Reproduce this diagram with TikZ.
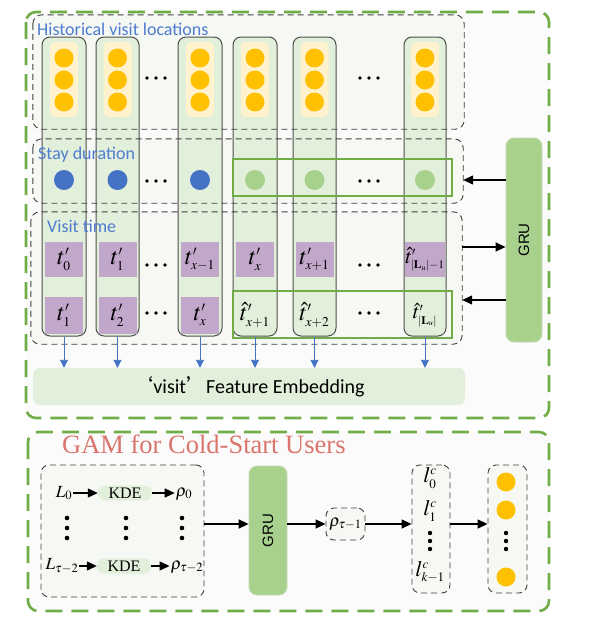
\documentclass[tikz,border=0pt]{standalone}
\usepackage{mathptmx}
\usepackage{fontspec}
\setmainfont{Liberation Serif}
\newfontfamily\calfont{Carlito}
\newfontfamily\arialfont{Liberation Sans}
\newfontfamily\cjkfont{Noto Sans CJK SC}
\usetikzlibrary{arrows.meta,calc}
\DeclareMathSizes{24}{24}{13.5}{10}
\DeclareMathSizes{21}{21}{11.5}{8}
\DeclareMathSizes{22}{22}{13}{10}
\definecolor{ogreen}{HTML}{70AD47}
\definecolor{palebg}{HTML}{F6F8F4}
\definecolor{outerbg}{HTML}{FBFBFB}
\definecolor{colgreen}{HTML}{E2EFDA}
\definecolor{colline}{HTML}{4F4F4F}
\definecolor{dline}{HTML}{404040}
\definecolor{bandy}{HTML}{FFF2CC}
\definecolor{yel}{HTML}{FFC000}
\definecolor{mauve}{HTML}{C1A7C9}
\definecolor{bblue}{HTML}{4472C4}
\definecolor{lblue}{HTML}{4E7CD0}
\definecolor{lgreen}{HTML}{A9D18E}
\definecolor{gruline}{HTML}{C2DAB0}
\definecolor{salmon}{HTML}{D9756C}
\begin{document}
\begin{tikzpicture}[x=1pt,y=-1pt,
  outerbox/.style={draw=ogreen,line width=2.6pt,dash pattern=on 17pt off 9pt,rounded corners=10pt,fill=outerbg},
  dfill/.style={fill=palebg,draw=none,rounded corners=9pt,inner sep=0pt},
  dbox/.style={draw=dline,line width=0.9pt,dash pattern=on 6pt off 4pt,rounded corners=9pt},
  dnode/.style={draw=dline,line width=0.9pt,dash pattern=on 6pt off 4pt,rounded corners=8pt,fill=palebg,inner sep=0pt},
  colbox/.style={draw=colline,fill=colgreen,line width=1pt,rounded corners=8pt,minimum width=44pt,minimum height=299pt,inner sep=0pt},
  band/.style={fill=bandy,rounded corners=5pt,minimum width=28pt,minimum height=75pt,inner sep=0pt},
  ydot/.style={circle,fill=yel,minimum size=19pt,inner sep=0pt},
  bdot/.style={circle,fill=bblue,minimum size=20pt,inner sep=0pt},
  gdot/.style={circle,fill=lgreen,minimum size=20pt,inner sep=0pt},
  pbox/.style={fill=mauve,minimum width=38pt,minimum height=35pt,inner sep=0pt,font=\fontsize{24}{25}\selectfont},
  hbox/.style={minimum width=38pt,minimum height=35pt,inner sep=0pt,font=\fontsize{24}{25}\selectfont},
  grect/.style={draw=ogreen,line width=1.3pt},
  lbl/.style={anchor=base west,text=lblue,font=\calfont\fontsize{18}{20}\selectfont,inner sep=0pt},
  grubox/.style={fill=lgreen,draw=gruline,line width=0.8pt,rounded corners=8pt,inner sep=0pt,font=\arialfont\fontsize{15}{16}\selectfont},
  arr/.style={line width=1.4pt,-{Triangle[length=10pt,width=9pt]}},
  barr/.style={draw=bblue,line width=0.9pt,-{Triangle[length=8pt,width=8pt]}},
  mth/.style={inner sep=1pt,font=\fontsize{17}{18}\selectfont},
  kde/.style={fill=colgreen,rounded corners=7pt,minimum width=54pt,minimum height=15pt,inner sep=0pt,font=\fontsize{16}{18}\selectfont},
  lc/.style={inner sep=0pt,font=\fontsize{22}{24}\selectfont},
]
\useasboundingbox (0,0) rectangle (592,621);
% outer boxes
\draw[outerbox] (26,12) rectangle (549,418);
\draw[outerbox] (28,432) rectangle (549,611);
% dashed box fills
\node[dfill,minimum width=431pt,minimum height=114pt] (hist) at (248.5,72) {};
\node[dfill,minimum width=430pt,minimum height=64pt] (stay) at (248,171) {};
\node[dfill,minimum width=431pt,minimum height=132pt] (visit) at (246.5,278) {};
% columns
\node[colbox] (c1) at (64,186.5) {};
\node[colbox,minimum width=43pt] (c2) at (117.5,186.5) {};
\node[colbox] (c3) at (200,186.5) {};
\node[colbox] (c4) at (255,186.5) {};
\node[colbox,minimum width=43pt] (c5) at (314.5,186.5) {};
\node[colbox,minimum width=42pt] (c6) at (425,186.5) {};
% dashed borders on top
\draw[dbox] (hist.north west) rectangle (hist.south east);
\draw[dbox] (stay.north west) rectangle (stay.south east);
\draw[dbox] (visit.north west) rectangle (visit.south east);
% labels
\node[lbl] (lh) at (37,35) {Historical visit locations};
\node[lbl] (ls) at (38,159) {Stay duration};
\node[lbl] (lv) at (47,232) {Visit time};
% location bands & circles
\foreach \n/\x in {1/64,2/117.5,3/200,4/255,5/314.5,6/425}{
  \node[band] (yb\n) at (\x,79.5) {};
  \node[ydot] (ya\n) at (\x,58) {};
  \node[ydot] (yc\n) at (\x,80) {};
  \node[ydot] (yd\n) at (\x,102) {};
}
% stay circles
\node[bdot] (s1) at (64,180) {};
\node[bdot] (s2) at (117.5,180) {};
\node[bdot] (s3) at (200,180) {};
\node[gdot] (s4) at (255,180) {};
\node[gdot] (s5) at (314.5,180) {};
\node[gdot] (s6) at (425,180) {};
% dots
\foreach \y in {78,181,265,313}{
  \foreach \x in {147,156,165}{\fill (\x,\y) circle (1.8);}
  \foreach \x in {360,369,378}{\fill (\x,\y) circle (1.8);}
}
% visit time boxes
\node[pbox] (ta1) at (64,259.5) {$t'_0$};
\node[pbox] (ta2) at (117.5,259.5) {$t'_1$};
\node[pbox] (ta3) at (200,259.5) {$t'_{x-1}$};
\node[pbox] (ta4) at (255,259.5) {$t'_x$};
\node[pbox] (ta5) at (314.5,259.5) {$t'_{x+1}$};
\node[pbox,font=\fontsize{21}{22}\selectfont] (ta6) at (425,259.5) {$\hat{t}'_{|\mathbf{L}_u|-1}$};
\node[pbox,minimum height=37pt] (tb1) at (64,315) {$t'_1$};
\node[pbox,minimum height=37pt] (tb2) at (117.5,315) {$t'_2$};
\node[pbox,minimum height=37pt] (tb3) at (200,315) {$t'_x$};
\node[hbox] (tb4) at (255,315) {$\hat{t}'_{x+1}$};
\node[hbox] (tb5) at (314.5,315) {$\hat{t}'_{x+2}$};
\node[hbox,font=\fontsize{21}{22}\selectfont] (tb6) at (425,315) {$\hat{t}'_{|\mathbf{L}_u|}$};
% green rectangles
\draw[grect] (233,159) rectangle (452,196);
\draw[grect] (233,291) rectangle (452,338);
% GRU top
\node[grubox,minimum width=36pt,minimum height=204pt] (gru1) at (524,240) {\rotatebox{90}{GRU}};
\coordinate (a2) at (0,247);
\coordinate (a3) at (0,300);
\draw[arr] (gru1.west |- s6) -- (stay.east |- s6);
\draw[arr] (visit.east |- a2) -- (gru1.west |- a2);
\draw[arr] (gru1.west |- a3) -- (visit.east |- a3);
% embedding
\node[fill=colgreen,rounded corners=7pt,minimum width=432pt,minimum height=37pt,inner sep=0pt,font=\calfont\fontsize{20}{22}\selectfont] (emb) at (249,386.5) {{\cjkfont ‘}visit{\cjkfont ’}Feature Embedding};
\foreach \c in {c1,c2,c3,c4,c5,c6}{\draw[barr] (\c.south) -- (\c.south |- emb.north);}
% bottom section
\node[anchor=base west,text=salmon,font=\fontsize{26.5}{28}\selectfont,inner sep=0pt] (gam) at (62,453) {GAM for Cold-Start Users};
\node[dnode,minimum width=163pt,minimum height=132pt] (lbox) at (122.5,531) {};
\node[mth] (L0) at (64,493) {$L_0$};
\node[kde] (k0) at (125,493) {KDE};
\node[mth] (r0) at (184,494) {$\rho_0$};
\node[mth] (L1) at (62,566) {$L_{\tau-2}$};
\node[kde] (k1) at (124,566) {KDE};
\node[mth] (r1) at (187,567) {$\rho_{\tau-2}$};
\draw[arr,line width=1.2pt] (L0) -- (k0);
\draw[arr,line width=1.2pt] (k0) -- (r0.west |- k0);
\draw[arr,line width=1.2pt] (L1.east |- k1) -- (k1);
\draw[arr,line width=1.2pt] (k1) -- (r1.west |- k1);
\foreach \x in {67,126,182}{\foreach \y in {518,528,538}{\fill (\x,\y) circle (2.3);}}
\node[grubox,minimum width=38pt,minimum height=129pt] (gru2) at (268,530.5) {\rotatebox{90}{GRU}};
\node[dnode,minimum width=39pt,minimum height=32pt,font=\fontsize{17}{18}\selectfont] (rho) at (345.5,524) {$\rho_{\tau-1}$};
\node[dnode,minimum width=38pt,minimum height=128pt] (lcbox) at (431,529) {};
\node[lc] (l0) at (430,478) {$l_0^c$};
\node[lc] (l1) at (430,511) {$l_1^c$};
\node[lc] (l2) at (430,572) {$l_{k-1}^c$};
\foreach \y in {533,541,549}{\fill (430,\y) circle (2.2);}
\node[dnode,minimum width=39pt,minimum height=128pt] (cbox) at (507.5,529) {};
\node[ydot] (o1) at (506,482) {};
\node[ydot] (o2) at (506,510) {};
\node[ydot] (o3) at (506,577) {};
\foreach \y in {533,541,549}{\fill (506,\y) circle (2.2);}
\draw[arr] (lbox.east |- rho) -- (gru2.west |- rho);
\draw[arr] (gru2.east |- rho) -- (rho.west);
\draw[arr] (rho.east) -- (lcbox.west |- rho);
\draw[arr] (lcbox.east |- rho) -- (cbox.west |- rho);
\end{tikzpicture}
\end{document}
